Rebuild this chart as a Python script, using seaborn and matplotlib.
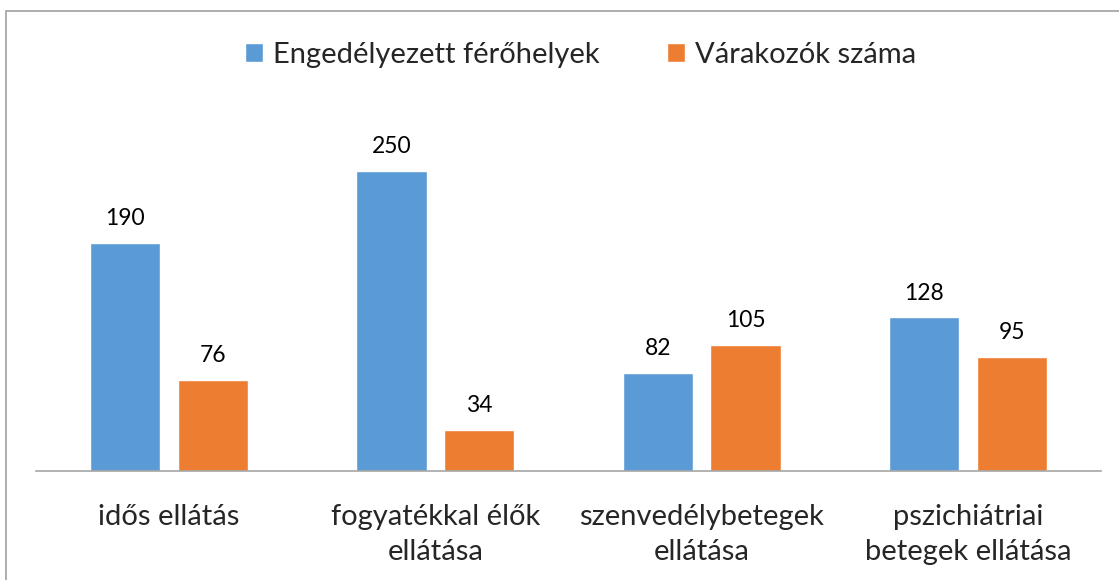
"""Férőhelyek és várakozók oszlopdiagram"""
import pandas as pd
import seaborn as sns
import matplotlib.pyplot as plt
from matplotlib.patches import Rectangle

categories = ['idős ellátás', 'fogyatékkal élők\nellátása',
              'szenvedélybetegek\nellátása', 'pszichiátriai\nbetegek ellátása']
series_names = ['Engedélyezett férőhelyek', 'Várakozók száma']
ferohelyek = [190, 250, 82, 128]
varakozok = [76, 34, 105, 95]
colors = ['#5B9BD5', '#ED7D31']

df = pd.DataFrame({
    'kategoria': categories * 2,
    'sorozat': [series_names[0]] * 4 + [series_names[1]] * 4,
    'ertek': ferohelyek + varakozok,
})

sns.set_style('white')
plt.rcParams['font.family'] = ['Lato', 'DejaVu Sans']

fig = plt.figure(figsize=(11.19, 5.8), dpi=100)
ax = fig.add_axes([36 / 1119, 109 / 580, 1065 / 1119, 360 / 580])

sns.barplot(data=df, x='kategoria', y='ertek', hue='sorozat',
            palette=colors, width=0.66, gap=0.2, ax=ax,
            saturation=1, legend=True)

# értékcímkék
for cont in ax.containers:
    ax.bar_label(cont, fmt='%d', padding=10, fontsize=16.5, color='#000000')

ax.set_ylim(0, 300)
ax.set_xlim(-0.5, 3.5)
ax.set_xlabel('')
ax.set_ylabel('')
ax.set_yticks([])
ax.tick_params(axis='x', length=0, pad=24, labelsize=21)
for lbl in ax.get_xticklabels():
    lbl.set_verticalalignment('top')
    lbl.set_linespacing(1.42)
for side in ['top', 'left', 'right']:
    ax.spines[side].set_visible(False)
ax.spines['bottom'].set_color('#A6A6A6')
ax.spines['bottom'].set_linewidth(1.2)

# jelmagyarázat felül
handles, labels = ax.get_legend_handles_labels()
ax.get_legend().remove()
fig.legend(handles, labels, loc='center', bbox_to_anchor=(0.519, 0.905),
           ncol=2, frameon=False, fontsize=21, handlelength=0.62,
           handleheight=0.62, handletextpad=0.35, columnspacing=2.3)

# diagram kerete
fig.patches.append(Rectangle((6 / 1119, -0.05), 1.1, 1 - 11 / 580 + 0.05,
                             transform=fig.transFigure, fill=False,
                             edgecolor='#A0A0A0', linewidth=1.2))

fig.savefig('out.png', dpi=100)
